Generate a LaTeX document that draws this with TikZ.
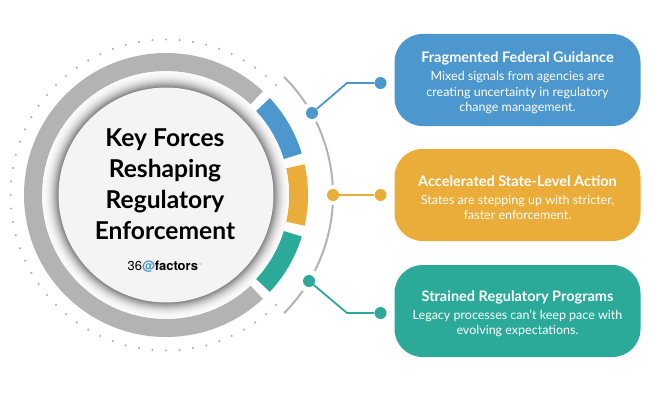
\documentclass[tikz,border=0pt]{standalone}
\usepackage{fontspec}
\setmainfont{Lato}
\newfontfamily\logofont{TeX Gyre Heros}
\usetikzlibrary{positioning}
\definecolor{forceblue}{HTML}{4C97CE}
\definecolor{forceyellow}{HTML}{EAAD3A}
\definecolor{forceteal}{HTML}{2BAA99}
\definecolor{ringgray}{HTML}{B3B3B3}
\definecolor{diskgray}{HTML}{F4F4F4}
\tikzset{
  forcebox/.style={fill=#1, rounded corners=28pt, minimum width=246pt, minimum height=92pt,
    text=white, align=center, font=\fontsize{12.5}{15.3}\selectfont},
  dotnode/.style={circle, fill=#1, inner sep=0pt, minimum size=12pt},
  link/.style={draw=#1, line width=1.8pt},
  thinarc/.style={draw=ringgray, line width=2pt},
}
\newcommand{\boxhead}[1]{{\rule{0pt}{16pt}\fontsize{14.5}{18}\selectfont\bfseries #1}\\[3pt]}
\begin{document}
\begin{tikzpicture}[x=1pt,y=1pt]
\useasboundingbox (0,0) rectangle (650,400);

% Dotted outer ring and the gray ring
\begin{scope}[shift={(166,205)}]
\foreach \a in {45,50,...,315}
  \fill[ringgray] (\a:155.5) circle (1.2);
\fill[ringgray] (47:142) arc (47:313:142) -- (313:124) arc (313:47:124) -- cycle;

% Colored segments
\fill[forceblue] (17:142) arc (17:43:142) -- (43:123) arc (43:17:123) -- cycle;
\fill[forceyellow] (-12.5:142) arc (-12.5:12.5:142) -- (12.5:123) arc (12.5:-12.5:123) -- cycle;
\fill[forceteal] (-43:142) arc (-43:-17:142) -- (-17:123) arc (-17:-43:123) -- cycle;

% Thin arcs
\draw[thinarc] (45:167) arc (45:33:167);
\draw[thinarc] (26:167) arc (26:3.5:167);
\draw[thinarc] (-3.5:167) arc (-3.5:-27:167);
\draw[thinarc] (-35:167) arc (-35:-45:167);

% Shadow around the disk
\foreach \k in {0,...,16} {
  \pgfmathsetmacro\g{2+0.2*\k*\k}
  \fill[black!\g!white] (0,0) circle (123-\k*0.97);
}
\fill[diskgray] (0,0) circle (107.5);
\end{scope}

% Center text
\node[align=center, font=\fontsize{24.6}{31}\selectfont\bfseries] (title) at (165,216)
  {Key Forces\\Reshaping\\Regulatory\\Enforcement};
\node[font=\logofont\fontsize{13}{15}\selectfont, inner sep=0pt] (logo) at (165,133)
  {36\textcolor{forceblue}{\textbf{@}}\textbf{factors}\textcolor{ringgray}{\raisebox{5pt}{\fontsize{3}{3}\selectfont TM}}};

% Boxes
\node[forcebox=forceblue] (fedbox) at (517.5,320) {\boxhead{Fragmented Federal Guidance}Mixed signals from agencies are\\creating uncertainty in regulatory\\change management.};
\node[forcebox=forceyellow] (statebox) at (517.5,205) {\boxhead{Accelerated State-Level Action}States are stepping up with stricter,\\faster enforcement.};
\node[forcebox=forceteal] (progbox) at (517.5,89) {\boxhead{Strained Regulatory Programs}Legacy processes can't keep pace with\\evolving expectations.};

% Connectors
\node[dotnode=forceblue] (fedin) at (312,287) {};
\node[dotnode=forceblue] (fedout) at (380.5,317) {};
\coordinate (fedbend) at (347,317);
\draw[link=forceblue] (fedin) -- (fedbend) -- (fedout);

\node[dotnode=forceyellow] (statein) at (333,205) {};
\node[dotnode=forceyellow] (stateout) at (380.5,205) {};
\draw[link=forceyellow] (statein) -- (stateout);

\node[dotnode=forceteal] (progin) at (309,119) {};
\node[dotnode=forceteal] (progout) at (380.5,87) {};
\coordinate (progbend) at (347,87);
\draw[link=forceteal] (progin) -- (progbend) -- (progout);
\end{tikzpicture}
\end{document}
